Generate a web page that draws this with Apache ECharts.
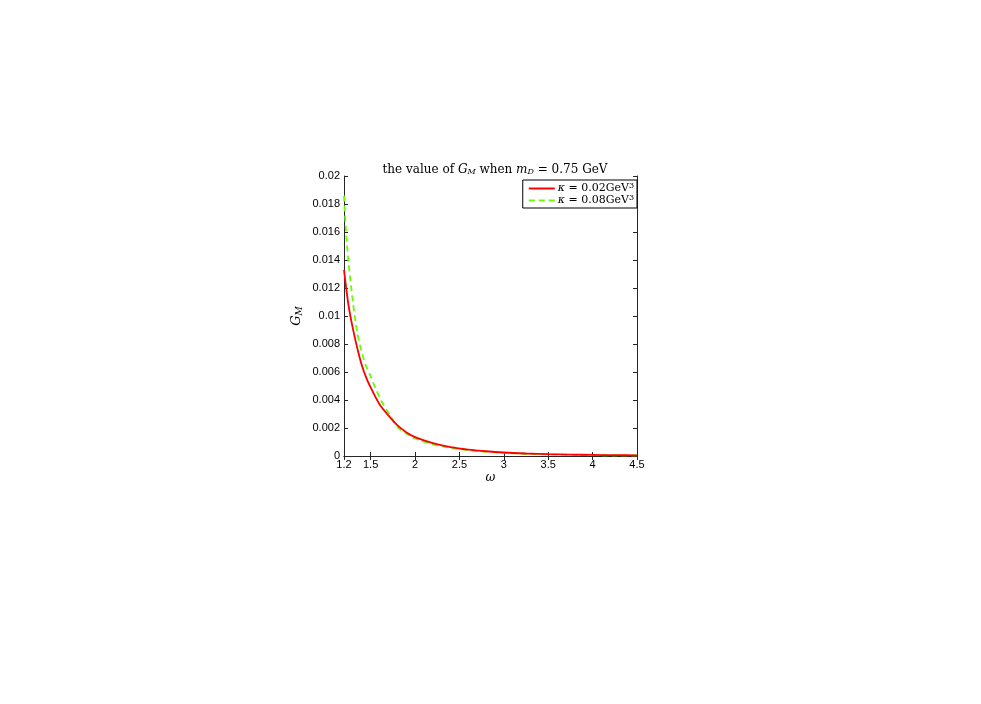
<!DOCTYPE html>
<html><head><meta charset="utf-8">
<script src="https://cdn.jsdelivr.net/npm/echarts@6/dist/echarts.min.js"></script>
<style>html,body{margin:0;padding:0;background:#fff}#c{width:981px;height:704px}</style>
</head><body><div id="c"></div>
<script>
const omegaRed = [1.2,1.25,1.3,1.35,1.4,1.45,1.5,1.6,1.7,1.8,1.9,2.0,2.2,2.4,2.6,2.8,3.0,3.25,3.5,3.75,4.0,4.25,4.5];
const gmRed = [0.0133,0.0108,0.0091,0.0077,0.0065,0.0056,0.0049,0.0037,0.0029,0.0022,0.0017,0.00135,0.00092,0.00064,0.00046,0.00034,0.00025,0.00018,0.00013,0.0001,0.00008,0.00006,0.00005];
const omegaGreen = [1.2,1.22,1.25,1.3,1.35,1.4,1.45,1.5,1.55,1.6,1.65,1.7,1.8,1.9,2.0,2.2,2.4,2.6,2.8,3.0,3.25,3.5,3.75,4.0,4.25,4.5];
const gmGreen = [0.0186,0.0163,0.0139,0.0110,0.0088,0.0074,0.0064,0.0057,0.0049,0.0042,0.0036,0.0031,0.0021,0.0016,0.00125,0.00083,0.00058,0.00041,0.0003,0.00022,0.00015,0.00011,0.00008,0.00006,0.00005,0.00004];
const xTicks = [1.2,1.5,2,2.5,3,3.5,4,4.5];
const yTicks = [0,0.002,0.004,0.006,0.008,0.01,0.012,0.014,0.016,0.018,0.02];
const seriesNames = ['k02','k08'];

const chart = echarts.init(document.getElementById('c'));
const axisCol = '#262626';
const sans = 'Liberation Sans, Arial, sans-serif';
const serif = 'DejaVu Serif, Liberation Serif, serif';
const zip = (a,b)=>a.map((v,i)=>[v,b[i]]);
const legendRich = {
  n:{fontFamily:serif,fontSize:11,color:'#000'},
  i:{fontFamily:serif,fontSize:11,fontStyle:'italic',color:'#000'},
  sup:{fontFamily:serif,fontSize:8,color:'#000',verticalAlign:'top',padding:[0,0,5,0]}
};
chart.setOption({
  animation:false,
  title:{
    text:'{n|the value of }{i|G}{s|M}{n| when }{i|m}{s|D}{n| = 0.75 GeV}',
    left:490, top:158, textAlign:'center',
    textStyle:{fontWeight:'normal',rich:{
      n:{fontFamily:serif,fontSize:12,fontWeight:'normal',color:'#000'},
      i:{fontFamily:serif,fontSize:12,fontWeight:'normal',fontStyle:'italic',color:'#000'},
      s:{fontFamily:serif,fontSize:8,fontWeight:'normal',fontStyle:'italic',color:'#000',padding:[5,0,0,0]}
    }}
  },
  grid:{left:344,top:176,right:344,bottom:248,containLabel:false},
  legend:{
    right:344, top:180, orient:'vertical', itemWidth:26, itemHeight:10, itemGap:0,
    borderColor:'#000', borderWidth:1, padding:[2,3,2,5], backgroundColor:'#fff',
    data:seriesNames,
    itemStyle:{opacity:0},
    formatter:function(n){return n==='k02'?'{i|κ}{n| = 0.02GeV}{sup|3}':'{i|κ}{n| = 0.08GeV}{sup|3}';},
    textStyle:{rich:legendRich, padding:[0,0,0,-2]}
  },
  xAxis:[{
    type:'value', min:1.2, max:4.5, position:'bottom',
    name:'ω', nameLocation:'middle', nameGap:16,
    nameTextStyle:{fontFamily:serif,fontStyle:'italic',fontSize:12,color:'#000'},
    axisLine:{lineStyle:{color:axisCol,width:1}},
    axisTick:{inside:true,length:4,lineStyle:{color:axisCol},customValues:xTicks},
    axisLabel:{customValues:xTicks,fontFamily:sans,fontSize:11,color:'#000',margin:3,
      formatter:v=>String(v)},
    splitLine:{show:false}
  },{
    type:'value', min:1.2, max:4.5, position:'top',
    axisLine:{lineStyle:{color:axisCol,width:1}},
    axisTick:{inside:true,length:4,lineStyle:{color:axisCol},customValues:xTicks},
    axisLabel:{show:false}, splitLine:{show:false}
  }],
  yAxis:[{
    type:'value', min:0, max:0.02, interval:0.002, position:'left',
    name:'{i|G}{s|M}', nameLocation:'middle', nameGap:40, nameRotate:90,
    nameTextStyle:{rich:{
      i:{fontFamily:serif,fontStyle:'italic',fontSize:13,color:'#000'},
      s:{fontFamily:serif,fontStyle:'italic',fontSize:9,color:'#000',padding:[6,0,0,0]}
    }},
    axisLine:{show:true,lineStyle:{color:axisCol,width:1}},
    axisTick:{show:true,inside:true,length:4,lineStyle:{color:axisCol}},
    axisLabel:{fontFamily:sans,fontSize:11,color:'#000',margin:4,
      formatter:v=>String(Math.round(v*1000)/1000)},
    splitLine:{show:false}
  },{
    type:'value', min:0, max:0.02, interval:0.002, position:'right',
    axisLine:{show:true,lineStyle:{color:axisCol,width:1}},
    axisTick:{show:true,inside:true,length:4,lineStyle:{color:axisCol}},
    axisLabel:{show:false}, splitLine:{show:false}
  }],
  series:[
    {name:'k02',type:'line',data:zip(omegaRed,gmRed),showSymbol:false,symbol:'none',
     smooth:0.3,lineStyle:{color:'#ff0000',width:1.8},itemStyle:{color:'#ff0000'},z:3},
    {name:'k08',type:'line',data:zip(omegaGreen,gmGreen),showSymbol:false,symbol:'none',
     smooth:0.3,lineStyle:{color:'#66ff00',width:1.8,type:[6,4]},itemStyle:{color:'#66ff00'},z:2}
  ]
});
</script></body></html>
